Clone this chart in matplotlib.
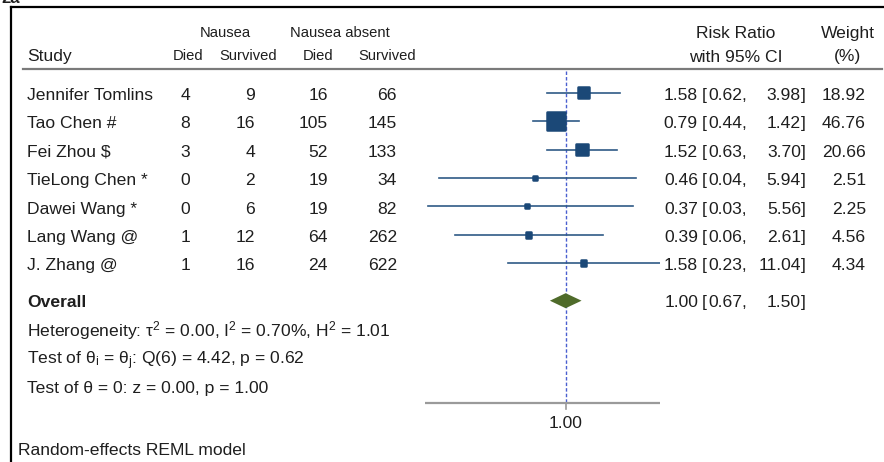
import matplotlib.pyplot as plt

plt.rcParams['font.family'] = ['Liberation Sans', 'DejaVu Sans']
plt.rcParams['mathtext.fontset'] = 'custom'
plt.rcParams['mathtext.rm'] = 'Liberation Sans'
plt.rcParams['mathtext.it'] = 'Liberation Sans'
plt.rcParams['mathtext.default'] = 'regular'

# --- dane ---
studies = ["Jennifer Tomlins", "Tao Chen #", "Fei Zhou $", "TieLong Chen *",
           "Dawei Wang *", "Lang Wang @", "J. Zhang @"]
naus_died = [4, 8, 3, 0, 0, 1, 1]
naus_surv = [9, 16, 4, 2, 6, 12, 16]
abs_died = [16, 105, 52, 19, 19, 64, 24]
abs_surv = [66, 145, 133, 34, 82, 262, 622]
rr = [1.58, 0.79, 1.52, 0.46, 0.37, 0.39, 1.58]
rr_lo = [0.62, 0.44, 0.63, 0.04, 0.03, 0.06, 0.23]
rr_hi = [3.98, 1.42, 3.70, 5.94, 5.56, 2.61, 11.04]
weights = [18.92, 46.76, 20.66, 2.51, 2.25, 4.56, 4.34]
overall = [1.00, 0.67, 1.50]
stats = ["Heterogeneity: τ$^2$ = 0.00, I$^2$ = 0.70%, H$^2$ = 1.01",
         r"Test of $\theta_i$ = $\theta_j$: Q(6) = 4.42, p = 0.62",
         "Test of θ = 0: z = 0.00, p = 1.00"]

W, H = 884, 462
txt = '#1e1e1e'
navy = '#1b4877'
fs = 12.6
fs_h = 10.6

fig = plt.figure(figsize=(W / 100, H / 100), dpi=100)
ax = fig.add_axes([0, 0, 1, 1])
ax.set_xlim(0, W)
ax.set_ylim(H, 0)
ax.axis('off')


def t(x, y, s, size=fs, ha='left', **kw):
    # y = linia bazowa tekstu (piksele od gory)
    ax.text(x, y, s, fontsize=size, ha=ha, va='baseline', color=txt, **kw)


# ramka i tytul (przyciety u gory jak w oryginale)
ax.plot([11, 11], [7, H], color='black', lw=1.6)
ax.plot([11, W], [7, 7], color='black', lw=1.6)
t(1, 3, '2a', size=12, fontweight='bold')

# naglowki
t(225, 37.3, 'Nausea', size=fs_h, ha='center')
t(340, 37.3, 'Nausea absent', size=fs_h, ha='center')
t(27, 60.7, 'Study')
for x, s in zip([188, 248, 318, 387], ['Died', 'Survived', 'Died', 'Survived']):
    t(x, 60.3, s, size=fs_h, ha='center')
t(736, 38.3, 'Risk Ratio', ha='center')
t(736, 61.5, 'with 95% CI', ha='center')
t(848, 38.3, 'Weight', ha='center')
t(848, 61.5, '(%)', ha='center')
ax.plot([23, 882], [69, 69], color='#7a7a7a', lw=1.6)

rows_y = [100 + 28.4 * i for i in range(len(studies))]
y_over = 306.7

for i, y in enumerate(rows_y):
    t(27, y, studies[i])
    for x, v in zip([190, 255, 328, 397],
                    [naus_died[i], naus_surv[i], abs_died[i], abs_surv[i]]):
        t(x, y, str(v), ha='right')
    t(698, y, f'{rr[i]:.2f}', ha='right')
    t(702, y, '[')
    t(708, y, f'{rr_lo[i]:.2f},')
    t(801, y, f'{rr_hi[i]:.2f}', ha='right')
    t(801, y, ']')
    t(866, y, f'{weights[i]:.2f}', ha='right')

t(27, y_over, 'Overall', fontweight='bold')
t(698, y_over, f'{overall[0]:.2f}', ha='right')
t(702, y_over, '[')
t(708, y_over, f'{overall[1]:.2f},')
t(801, y_over, f'{overall[2]:.2f}', ha='right')
t(801, y_over, ']')
for y, s in zip([336, 364.3, 393.3], stats):
    t(27, y, s)
t(18, 455, 'Random-effects REML model')

# --- wykres lesny (skala log) ---
axf = fig.add_axes([425 / W, 0, 235 / W, 1])
axf.set_xscale('log')
x0, x1 = min(rr_lo) * 0.93, max(rr_hi)
axf.set_xlim(x0, x1)
axf.set_ylim(H, 0)
axf.axis('off')

axf.plot([x0, x1], [403, 403], color='#9a9a9a', lw=1.6, solid_capstyle='butt')
axf.plot([1, 1], [403, 409], color='#9a9a9a', lw=1.2)
axf.text(1, 428.3, '1.00', fontsize=fs, ha='center', va='baseline', color=txt)
axf.plot([1, 1], [71, 403], color='#4a5fd0', lw=1.0, ls=(0, (2.5, 1.5)), zorder=1)

mark_y = [y - 7.3 for y in rows_y]
for i, y in enumerate(mark_y):
    axf.plot([rr_lo[i], rr_hi[i]], [y, y], color='#2f5a86', lw=1.2, zorder=2)
axf.scatter(rr, mark_y, s=[3.6 * w for w in weights], marker='s',
            color=navy, edgecolors=navy, linewidths=1.8, zorder=3)

est, lo, hi = overall
yc = y_over - 6
axf.fill([lo, est, hi, est], [yc, yc - 7.5, yc, yc + 7.5],
         color='#4f6b2a', zorder=3, lw=0)

fig.savefig('out.png', dpi=100)
